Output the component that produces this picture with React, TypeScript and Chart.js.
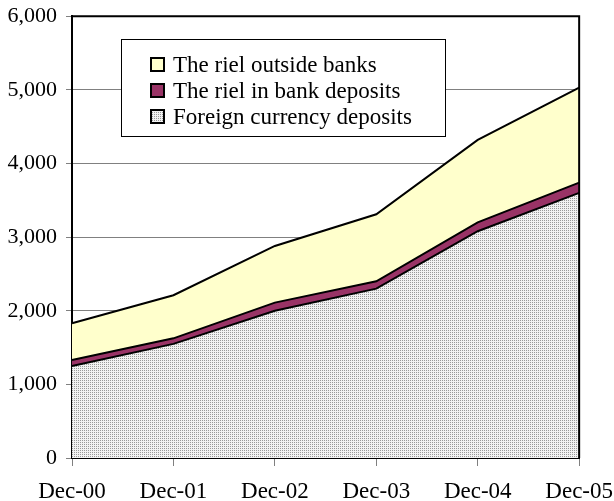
import React, { useEffect, useRef } from "react";
import { Chart, registerables } from "chart.js";

Chart.register(...registerables);

const categories = ["Dec-00", "Dec-01", "Dec-02", "Dec-03", "Dec-04", "Dec-05"];
const foreignDeposits = [1250, 1550, 2000, 2300, 3080, 3600];
const rielDeposits = [80, 75, 110, 100, 120, 140];
const rielOutside = [500, 585, 770, 910, 1120, 1290];
const legendLabels = ["The riel outside banks", "The riel in bank deposits", "Foreign currency deposits"];
const yTicks = [0, 1000, 2000, 3000, 4000, 5000, 6000];

const FONT = "'Liberation Serif', 'Times New Roman', serif";
const OFFSET_TOP = 6;

function makePattern(): CanvasPattern | string {
  const c = document.createElement("canvas");
  c.width = 2;
  c.height = 2;
  const g = c.getContext("2d");
  if (!g) return "#ddd";
  g.fillStyle = "#f2f2f2";
  g.fillRect(0, 0, 2, 2);
  g.fillStyle = "#999999";
  g.fillRect(0, 0, 1, 1);
  const ctx = document.createElement("canvas").getContext("2d");
  return (ctx && ctx.createPattern(c, "repeat")) || "#ddd";
}

export default function App() {
  const ref = useRef<HTMLCanvasElement>(null);
  useEffect(() => {
    if (!ref.current) return;
    const pattern = makePattern();
    const fills = ["#FFFFCC", "#993366", pattern];

    const framePlugin = {
      id: "frame",
      afterDatasetsDraw(chart: any) {
        const { ctx, chartArea } = chart;
        ctx.save();
        ctx.strokeStyle = "#000";
        ctx.lineWidth = 2;
        ctx.beginPath();
        ctx.moveTo(chartArea.left, chartArea.top);
        ctx.lineTo(chartArea.right, chartArea.top);
        ctx.lineTo(chartArea.right, chartArea.bottom);
        ctx.stroke();
        ctx.restore();
      },
      afterDraw(chart: any) {
        const { ctx } = chart;
        ctx.save();
        ctx.translate(0, OFFSET_TOP);
        const bx = 121, by = 39, bw = 324, bh = 97;
        ctx.fillStyle = "#fff";
        ctx.fillRect(bx, by, bw, bh);
        ctx.strokeStyle = "#000";
        ctx.lineWidth = 1;
        ctx.strokeRect(bx + 0.5, by + 0.5, bw, bh);
        ctx.font = `23px ${FONT}`;
        ctx.textBaseline = "middle";
        ctx.fillStyle = "#000";
        legendLabels.forEach((lab, i) => {
          const cy = 65 + i * 26;
          ctx.fillStyle = fills[i];
          ctx.fillRect(151, cy - 7, 13, 13);
          ctx.strokeStyle = "#000";
          ctx.lineWidth = 2;
          ctx.strokeRect(151, cy - 7, 13, 13);
          ctx.fillStyle = "#000";
          ctx.fillText(lab, 173, cy + 1);
        });
        ctx.restore();
      },
    };

    const chart = new Chart(ref.current, {
      type: "line",
      data: {
        labels: categories,
        datasets: [
          {
            label: legendLabels[2],
            data: foreignDeposits,
            backgroundColor: pattern as any,
            borderColor: "#000",
            borderWidth: 2,
            fill: "origin",
            pointRadius: 0,
            tension: 0,
          },
          {
            label: legendLabels[1],
            data: rielDeposits,
            backgroundColor: "#993366",
            borderColor: "#000",
            borderWidth: 2,
            fill: "-1",
            pointRadius: 0,
            tension: 0,
          },
          {
            label: legendLabels[0],
            data: rielOutside,
            backgroundColor: "#FFFFCC",
            borderColor: "#000",
            borderWidth: 2,
            fill: "-1",
            pointRadius: 0,
            tension: 0,
          },
        ],
      },
      options: {
        animation: false,
        responsive: true,
        maintainAspectRatio: false,
        layout: { padding: { top: 10, right: 26, left: 0, bottom: 0 } },
        plugins: { legend: { display: false }, tooltip: { enabled: false } },
        scales: {
          x: {
            type: "category",
            offset: false,
            grid: { display: true, drawOnChartArea: false, drawTicks: true, tickLength: 8, color: "#808080" },
            border: { display: true, color: "#000", width: 2 },
            ticks: { color: "#000", font: { family: FONT, size: 23 }, padding: 12, maxRotation: 0, autoSkip: false },
            afterFit(scale: any) {
              scale.height = 43;
            },
          },
          y: {
            stacked: true,
            min: 0,
            max: 6000,
            afterBuildTicks(scale: any) {
              scale.ticks = yTicks.map((v) => ({ value: v }));
            },
            grid: { color: "#808080", tickLength: 6, lineWidth: 1 },
            border: { display: true, color: "#000", width: 2 },
            ticks: {
              color: "#000",
              font: { family: FONT, size: 22 },
              padding: 9,
              callback: (v: any) => Number(v).toLocaleString("en-US"),
            },
            afterFit(scale: any) {
              scale.width = 72;
            },
          },
        },
      },
      plugins: [framePlugin],
    });
    return () => chart.destroy();
  }, []);

  return (
    <div style={{ position: "fixed", left: 0, top: 0, width: 614, height: 501, overflow: "hidden", background: "#fff" }}>
      <div style={{ position: "absolute", left: 0, top: -OFFSET_TOP, width: 625, height: 501 + OFFSET_TOP }}>
        <canvas ref={ref} />
      </div>
    </div>
  );
}
